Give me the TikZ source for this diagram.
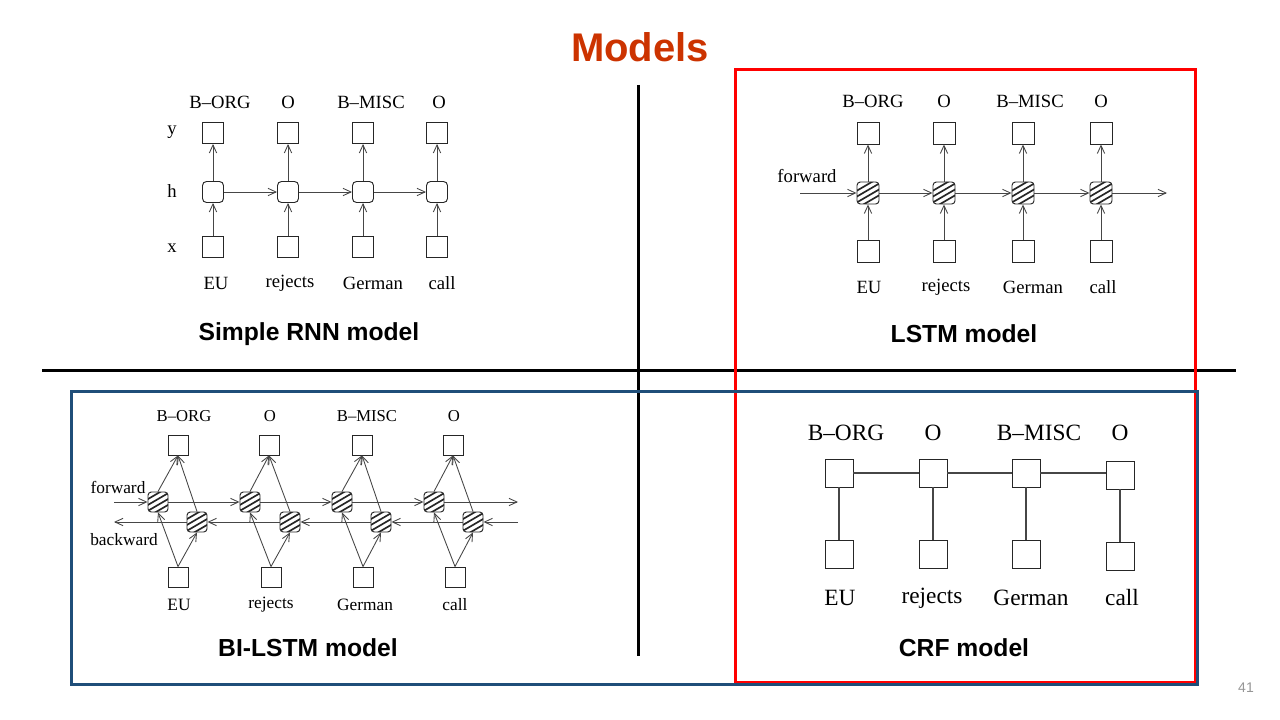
\documentclass[tikz,border=0pt]{standalone}
\usepackage{fontspec}
\setmainfont{Liberation Serif}
\newfontfamily\headfont{Liberation Sans}
\usetikzlibrary{arrows.meta}
\definecolor{titlered}{RGB}{204,51,0}
\definecolor{framered}{RGB}{255,0,0}
\definecolor{frameblue}{RGB}{31,78,121}
\definecolor{wire}{RGB}{70,70,70}
\definecolor{pagegray}{RGB}{150,150,150}
\tikzset{
  sqbox/.style={draw=black!85, line width=0.7pt, minimum size=#1, inner sep=0pt},
  hatchcell/.style={sqbox=#1, rounded corners=2.5pt, path picture={
      \foreach \d in {-6.6,-2.2,2.2,6.6}
        \draw[line width=1.25pt] ([xshift=-12pt,yshift=\d pt-7pt]path picture bounding box.center) -- ++(24pt,14pt);}},
  wirearrow/.style={draw=wire, line width=0.65pt, -{Straight Barb[length=6pt,width=5.5pt]}},
  crfline/.style={draw=wire, line width=0.8pt},
  smalltext/.style={font=\fontsize{#1}{#1}\selectfont, inner sep=0pt},
  modelcap/.style={font=\headfont\bfseries\fontsize{18.5}{22}\selectfont, inner sep=0pt},
}
\begin{document}
\begin{tikzpicture}[x=0.75pt,y=-0.75pt]
  \useasboundingbox (0,0) rectangle (1280,720);
  \fill[white] (0,0) rectangle (1280,720);
  \node[font=\headfont\bfseries\fontsize{30}{34}\selectfont, text=titlered] (title) at (640,47) {Models};
  \node[font=\headfont\fontsize{10.5}{12}\selectfont, text=pagegray] (pagenum) at (1246,688) {41};
  \draw[line width=2.25pt] (638,85) -- (638,656);
  \draw[line width=2.25pt] (42,370) -- (1236,370);
  \draw[framered, line width=2.25pt] (735,70) rectangle (1195,682);
  \draw[frameblue, line width=2.25pt] (71,391) rectangle (1197,684);

  % simple RNN
  \node[smalltext=14] (rnnrowy) at (172,132) {y};
  \node[smalltext=14] (rnnrowh) at (172,191) {h};
  \node[smalltext=14] (rnnrowx) at (172,248) {x};
  \foreach \n/\cx/\lx/\lab/\wx/\tok in {1/213/220/B–ORG/216/EU, 2/288/288/O/290/rejects, 3/363/371/B–MISC/373/German, 4/437/439/O/442/call} {
    \node[sqbox=15.75pt] (rnny\n) at (\cx,133) {};
    \node[sqbox=15.75pt, rounded corners=3pt] (rnnh\n) at (\cx,192) {};
    \node[sqbox=15.75pt] (rnnx\n) at (\cx,247) {};
    \node[smalltext=14] (rnnlab\n) at (\lx,102) {\lab};
    \node[smalltext=14] (rnnword\n) at (\wx,283) {\tok};
    \draw[wirearrow] (rnnx\n) -- (rnnh\n);
    \draw[wirearrow] (rnnh\n) -- (rnny\n);
  }
  \foreach \n/\m in {1/2,2/3,3/4} \draw[wirearrow] (rnnh\n) -- (rnnh\m);
  \node[modelcap] (rnncap) at (309,334) {Simple RNN model};

  % LSTM
  \foreach \n/\cx/\lx/\lab/\wx/\tok in {1/868/873/B–ORG/869/EU, 2/944/944/O/946/rejects, 3/1023/1030/B–MISC/1033/German, 4/1101/1101/O/1103/call} {
    \node[sqbox=16.5pt] (lstmy\n) at (\cx,133) {};
    \node[hatchcell=16.5pt] (lstmc\n) at (\cx,193) {};
    \node[sqbox=16.5pt] (lstmx\n) at (\cx,251) {};
    \node[smalltext=14] (lstmlab\n) at (\lx,101) {\lab};
    \node[smalltext=14] (lstmword\n) at (\wx,287) {\tok};
    \draw[wirearrow] (lstmx\n) -- (lstmc\n);
    \draw[wirearrow] (lstmc\n) -- (lstmy\n);
  }
  \node[smalltext=14] (lstmfwd) at (807,176) {forward};
  \coordinate (lstmin) at (800,193);
  \coordinate (lstmout) at (1167,193);
  \draw[wirearrow] (lstmin) -- (lstmc1);
  \foreach \n/\m in {1/2,2/3,3/4} \draw[wirearrow] (lstmc\n) -- (lstmc\m);
  \draw[wirearrow] (lstmc4) -- (lstmout);
  \node[modelcap] (lstmcap) at (964,334) {LSTM model};

  % BI-LSTM
  \foreach \n/\yx/\fx/\bx/\xx/\lx/\lab/\wx/\tok in {1/178/158/197/178/184/B–ORG/179/EU, 2/269/250/290/271/270/O/271/rejects, 3/362/342/381/363/367/B–MISC/365/German, 4/453/434/473/455/454/O/455/call} {
    \node[sqbox=15pt] (biy\n) at (\yx,445) {};
    \node[hatchcell=15pt] (bif\n) at (\fx,502) {};
    \node[hatchcell=15pt] (bib\n) at (\bx,522) {};
    \node[sqbox=15pt] (bix\n) at (\xx,577) {};
    \node[smalltext=12.5] (bilab\n) at (\lx,416) {\lab};
    \node[smalltext=13] (biword\n) at (\wx,605) {\tok};
    \draw[wirearrow] (bix\n.north) -- (bif\n.south);
    \draw[wirearrow] (bix\n.north) -- (bib\n.south);
    \draw[wirearrow] (bif\n.north) -- (biy\n.south);
    \draw[wirearrow] (bib\n.north) -- (biy\n.south);
  }
  \node[smalltext=13] (bifwd) at (118,487) {forward};
  \node[smalltext=13] (bibwd) at (124,540) {backward};
  \coordinate (bifin) at (114,502);
  \coordinate (bifout) at (518,502);
  \coordinate (bibin) at (518,522);
  \coordinate (bibout) at (114,522);
  \draw[wirearrow] (bifin) -- (bif1);
  \foreach \n/\m in {1/2,2/3,3/4} \draw[wirearrow] (bif\n) -- (bif\m);
  \draw[wirearrow] (bif4) -- (bifout);
  \draw[wirearrow] (bibin) -- (bib4);
  \foreach \n/\m in {4/3,3/2,2/1} \draw[wirearrow] (bib\n) -- (bib\m);
  \draw[wirearrow] (bib1) -- (bibout);
  \node[modelcap] (bicap) at (308,648) {BI-LSTM model};

  % CRF
  \foreach \n/\cx/\ty/\lx/\lab/\wx/\tok in {1/839/473/846/B–ORG/840/EU, 2/933/473/933/O/932/rejects, 3/1026/473/1039/B–MISC/1031/German, 4/1120/475/1120/O/1122/call} {
    \node[sqbox=21pt] (crft\n) at (\cx,\ty) {};
    \node[sqbox=21pt] (crfb\n) at (\cx,\ty+81) {};
    \node[smalltext=17.5] (crflab\n) at (\lx,433) {\lab};
    \node[smalltext=17.5] (crfword\n) at (\wx,598) {\tok};
    \draw[crfline] (crft\n) -- (crfb\n);
  }
  \draw[crfline] (crft1) -- (crft2) -- (crft3);
  \draw[crfline] (crft3.east) -- (crft4.west |- crft3.east);
  \node[modelcap] (crfcap) at (964,648) {CRF model};
\end{tikzpicture}
\end{document}
